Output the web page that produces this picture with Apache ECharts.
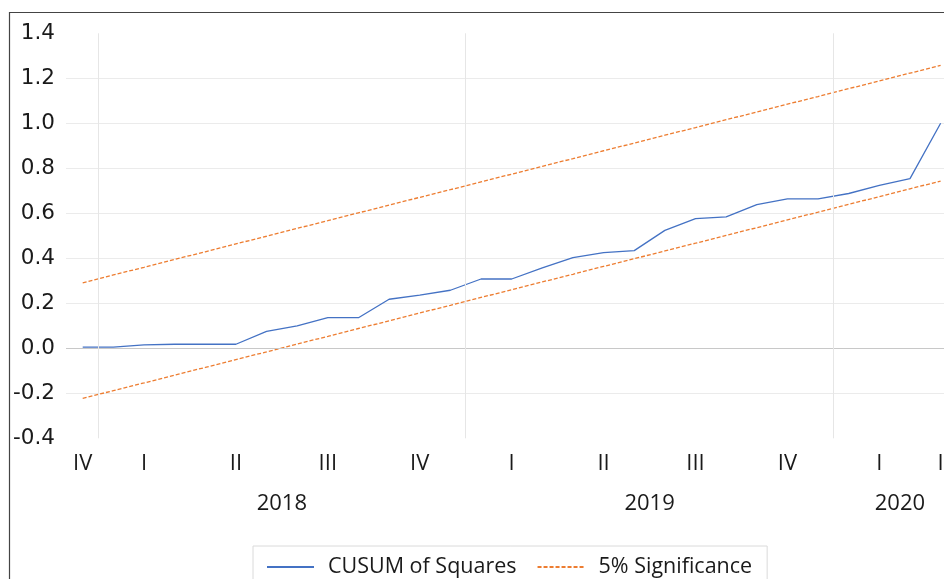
<!DOCTYPE html>
<html>
<head>
<meta charset="utf-8">
<script src="https://cdn.jsdelivr.net/npm/echarts@6/dist/echarts.min.js"></script>
<style>
    html, body { margin: 0; padding: 0; background: #fff; }
    #main { width: 944px; height: 579px; }
</style>
</head>
<body>
<div id="main"></div>
<script>
    // months shown on the chart, Dec 2017 .. Apr 2020
    var months = ['2017-12', '2018-01', '2018-02', '2018-03', '2018-04', '2018-05', '2018-06',
        '2018-07', '2018-08', '2018-09', '2018-10', '2018-11', '2018-12',
        '2019-01', '2019-02', '2019-03', '2019-04', '2019-05', '2019-06',
        '2019-07', '2019-08', '2019-09', '2019-10', '2019-11', '2019-12',
        '2020-01', '2020-02', '2020-03', '2020-04'];

    var cusumSq = [0.005, 0.005, 0.015, 0.018, 0.018, 0.018, 0.075, 0.100, 0.136, 0.136,
        0.218, 0.236, 0.258, 0.308, 0.308, 0.357, 0.403, 0.425, 0.434, 0.524,
        0.576, 0.584, 0.639, 0.664, 0.664, 0.688, 0.724, 0.754, 1.000];

    var upper5 = [0.291, 0.326, 0.360, 0.395, 0.429, 0.464, 0.498, 0.533, 0.567, 0.602,
        0.636, 0.671, 0.705, 0.740, 0.774, 0.809, 0.843, 0.878, 0.912, 0.947,
        0.981, 1.016, 1.050, 1.085, 1.119, 1.154, 1.188, 1.223, 1.257];

    var lower5 = [-0.223, -0.188, -0.154, -0.119, -0.085, -0.050, -0.016, 0.019, 0.053, 0.088,
        0.122, 0.157, 0.191, 0.226, 0.260, 0.295, 0.329, 0.364, 0.398, 0.433,
        0.467, 0.502, 0.536, 0.571, 0.605, 0.640, 0.674, 0.709, 0.743];

    // quarter tick labels (month index where label sits)
    var quarterPos = [0, 2, 5, 8, 11, 14, 17, 20, 23, 26, 28.1];
    var quarterLabels = ['IV', 'I', 'II', 'III', 'IV', 'I', 'II', 'III', 'IV', 'I', 'II'];

    var yearPos = [6.5, 18.5, 26.67];
    var yearLabels = ['2018', '2019', '2020'];
    var yearBreaks = [0.5, 12.5, 24.5];

    function pairs(vals) {
        return vals.map(function (v, i) { return [i, v]; });
    }

    var font = 'Open Sans';
    var chart = echarts.init(document.getElementById('main'));
    chart.setOption({
        animation: false,
        backgroundColor: '#fff',
        graphic: [{
            type: 'rect',
            z: -10,
            shape: { x: 9.5, y: 12.5, width: 2000, height: 2000 },
            style: { fill: 'none', stroke: '#444', lineWidth: 1.2 }
        }],
        grid: {
            left: 66,
            right: 0,
            top: 33.3,
            bottom: 140.7,
            outerBoundsMode: 'none'
        },
        legend: {
            data: ['CUSUM of Squares', '5% Significance'],
            left: 253,
            top: 546,
            orient: 'horizontal',
            padding: [9, 15, 20, 13],
            itemGap: 20,
            itemWidth: 47,
            itemHeight: 14,
            itemStyle: { opacity: 0 },
            borderColor: '#dadada',
            borderWidth: 1,
            textStyle: {
                fontFamily: font,
                fontSize: 21.5,
                color: '#1a1a1a',
                padding: [0, 0, 0, 9],
                lineHeight: 24
            }
        },
        xAxis: [{
            type: 'value',
            min: -0.545,
            max: 28.11,
            axisLine: { show: false },
            axisTick: { show: false },
            splitLine: { show: false },
            axisLabel: {
                customValues: quarterPos,
                margin: 15,
                fontFamily: font,
                fontSize: 22,
                lineHeight: 20,
                color: '#1a1a1a',
                formatter: function (v) {
                    var k = quarterPos.indexOf(v);
                    return k >= 0 ? quarterLabels[k] : '';
                }
            }
        }, {
            type: 'value',
            position: 'bottom',
            offset: 43,
            min: -0.545,
            max: 28.11,
            axisLine: { show: false },
            axisTick: { show: false },
            splitLine: { show: false },
            axisLabel: {
                customValues: yearPos,
                margin: 12,
                fontFamily: font,
                fontSize: 22,
                lineHeight: 20,
                color: '#1a1a1a',
                formatter: function (v) {
                    var k = yearPos.indexOf(v);
                    return k >= 0 ? yearLabels[k] : '';
                }
            }
        }],
        yAxis: {
            type: 'value',
            min: -0.4,
            max: 1.4,
            interval: 0.2,
            axisLine: { show: false },
            axisTick: { show: false },
            axisLabel: {
                margin: 11,
                fontFamily: 'DejaVu Sans',
                fontSize: 21.5,
                color: '#1a1a1a',
                formatter: function (v) { return v.toFixed(1); }
            },
            splitLine: {
                showMinLine: false,
                showMaxLine: false,
                lineStyle: { color: '#ebebeb', width: 1 }
            }
        },
        series: [
            {
                type: 'line',
                data: [],
                silent: true,
                z: 1,
                markLine: {
                    silent: true,
                    symbol: 'none',
                    label: { show: false },
                    lineStyle: { color: '#e6e6e6', width: 1, type: 'solid' },
                    data: [{ yAxis: 0, lineStyle: { color: '#c8c8c8' } }].concat(
                        yearBreaks.map(function (x) { return { xAxis: x }; }))
                }
            },
            {
                name: 'CUSUM of Squares',
                type: 'line',
                z: 3,
                symbol: 'none',
                data: pairs(cusumSq),
                lineStyle: { color: '#4472c4', width: 1.3 },
                itemStyle: { color: '#4472c4' }
            },
            {
                name: '5% Significance',
                type: 'line',
                z: 2,
                symbol: 'none',
                data: pairs(upper5),
                lineStyle: { color: '#ed7d31', width: 1.3, type: [4, 2] },
                itemStyle: { color: '#ed7d31' }
            },
            {
                name: '5% Significance',
                type: 'line',
                z: 2,
                symbol: 'none',
                data: pairs(lower5),
                lineStyle: { color: '#ed7d31', width: 1.3, type: [4, 2] },
                itemStyle: { color: '#ed7d31' }
            }
        ]
    });
</script>
</body>
</html>
